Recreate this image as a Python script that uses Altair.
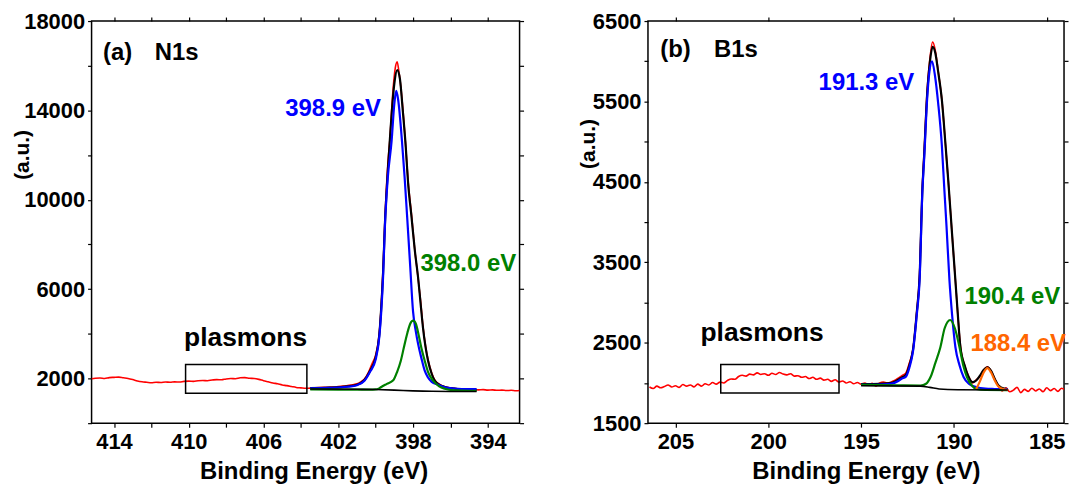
import altair as alt
import pandas as pd

FONT = "Liberation Sans"

# ---------------- (a) N1s : (binding energy eV, intensity) ----------------
n1s_raw = [(415.2,1990),(415.0,2010),(414.75,2020),(414.5,2000),(414.25,2040),(414.0,2050),(413.75,2060),
           (413.5,2030),(413.25,2000),(413.0,1950),(412.75,1890),(412.5,1850),(412.25,1830),(412.0,1810),
           (411.75,1830),(411.5,1820),(411.25,1840),(411.0,1830),(410.75,1850),(410.5,1840),(410.25,1870),
           (410.0,1880),(409.75,1870),(409.5,1900),(409.25,1910),(409.0,1900),(408.75,1930),(408.5,1950),
           (408.25,1940),(408.0,1980),(407.75,2000),(407.5,1990),(407.25,2030),(407.0,2040),(406.75,2010),
           (406.5,2000),(406.25,1960),(406.0,1900),(405.75,1850),(405.5,1800),(405.25,1760),(405.0,1710),
           (404.75,1680),(404.5,1640),(404.25,1600),(404.0,1580),(403.75,1560),(403.5,1570),(403.25,1580),
           (403.0,1590),(402.75,1600),(402.5,1610),(402.25,1620),(402.0,1640),(401.75,1660),(401.5,1680),
           (401.25,1720),(401.0,1760),(400.8,1850),(400.6,1980),(400.4,2250),(400.2,2650),(400.0,3050),
           (399.8,4100),(399.7,5300),(399.6,7000),(399.5,9200),(399.35,11600),(399.24,12700),(399.1,14600),
           (398.95,15900),(398.85,16170),(398.75,15700),(398.6,14600),(398.41,12600),(398.25,10700),
           (398.09,9400),(397.9,7700),(397.73,6500),(397.6,5500),(397.47,4350),(397.33,3450),(397.2,2850),
           (397.0,2250),(396.85,1950),(396.7,1800),(396.5,1700),(396.25,1620),(396.0,1580),(395.75,1550),
           (395.5,1530),(395.25,1520),(395.0,1510),(394.75,1500),(394.5,1490),(394.25,1500),(394.0,1480),
           (393.75,1490),(393.5,1470),(393.25,1480),(393.0,1460),(392.75,1470),(392.5,1450),(392.3,1460)]
n1s_env = [(403.5,1570),(402.5,1590),(401.5,1650),(401.0,1720),(400.6,1930),(400.3,2350),(400.0,2950),
           (399.8,4000),(399.7,5200),(399.6,6800),(399.5,9000),(399.35,11300),(399.2,13200),(399.0,15200),
           (398.85,15800),(398.7,15400),(398.55,14000),(398.41,12600),(398.25,10600),(398.09,9300),
           (397.9,7700),(397.73,6520),(397.6,5400),(397.47,4290),(397.33,3400),(397.2,2807),(397.0,2200),
           (396.85,1916),(396.6,1720),(396.3,1620),(395.8,1550),(395.5,1520),(394.6,1490)]
n1s_main = [(403.5,1560),(402.5,1580),(401.5,1630),(401.0,1700),(400.6,1900),(400.3,2300),(400.0,2850),
            (399.8,3900),(399.7,5000),(399.6,6600),(399.5,8900),(399.35,11000),(399.15,12600),(399.0,14300),
            (398.9,14870),(398.8,14500),(398.59,12600),(398.45,11000),(398.32,9300),(398.15,7000),
            (398.0,5000),(397.85,4100),(397.73,3550),(397.55,2900),(397.38,2360),(397.2,2050),(397.0,1850),
            (396.67,1720),(396.3,1600),(395.8,1550),(395.4,1530),(394.6,1520)]
n1s_second = [(403.5,1510),(402.0,1505),(401.0,1500),(400.3,1500),(400.0,1510),(399.85,1540),(399.7,1620),
              (399.4,1760),(399.06,1916),(398.85,2300),(398.65,2807),(398.5,3350),(398.3,4050),(398.15,4450),
              (398.0,4590),(397.85,4450),(397.7,3950),(397.55,3350),(397.38,2807),(397.2,2300),(396.94,1916),
              (396.6,1650),(396.3,1540),(395.8,1470),(395.0,1450),(394.6,1450)]
n1s_bg = [(403.5,1530),(401.0,1515),(400.0,1505),(399.0,1480),(398.0,1445),(397.0,1425),(396.0,1420),(394.6,1420)]

# ---------------- (b) B1s ----------------
b1s_raw = [(206.4,1950),(206.2,1930),(206.0,1960),(205.8,1940),(205.6,1955),(205.4,1975),(205.2,1950),
           (205.0,1965),(204.8,1945),(204.6,1980),(204.4,1960),(204.2,1975),(204.0,1950),(203.8,1985),
           (203.6,1960),(203.4,1990),(203.2,1975),(203.0,2005),(202.8,1985),(202.6,2010),(202.4,2000),
           (202.2,2030),(202.0,2050),(201.8,2045),(201.6,2080),(201.4,2095),(201.2,2085),(201.0,2110),
           (200.8,2100),(200.6,2125),(200.4,2105),(200.2,2115),(200.0,2095),(199.8,2120),(199.6,2105),
           (199.4,2130),(199.2,2110),(199.0,2100),(198.8,2115),(198.6,2085),(198.4,2090),(198.2,2070),
           (198.0,2080),(197.8,2055),(197.6,2070),(197.4,2045),(197.2,2060),(197.0,2035),(196.8,2045),
           (196.6,2020),(196.4,2040),(196.2,2010),(196.0,2025),(195.8,2000),(195.6,2015),(195.4,1990),
           (195.2,2005),(195.0,1985),(194.8,2000),(194.6,1975),(194.4,1995),(194.2,1960),(194.0,2000),
           (193.8,2010),(193.6,2000),(193.4,2010),(193.2,2030),(193.0,2060),(192.8,2090),(192.6,2120),
           (192.4,2250),(192.2,2430),(192.0,2900),(191.85,3350),(191.7,4450),(191.6,4900),(191.44,5650),
           (191.3,6020),(191.15,6240),(191.0,6130),(190.85,5880),(190.65,5520),(190.45,4950),(190.3,4500),
           (190.1,3850),(189.92,3270),(189.8,2880),(189.65,2460),(189.4,2200),(189.2,2080),(189.0,2000),
           (188.8,2040),(188.6,2080),(188.4,2160),(188.2,2200),(188.0,2150),(187.8,2050),(187.6,1960),
           (187.4,1900),(187.2,1940),(187.0,1890),(186.8,1910),(186.6,1945),(186.4,1880),(186.2,1920),
           (186.0,1895),(185.8,1935),(185.6,1900),(185.4,1925),(185.2,1890),(185.0,1940),(184.8,1905),
           (184.6,1930),(184.4,1895),(184.2,1935),(184.0,1910)]
b1s_env = [(195.0,1985),(194.0,1990),(193.3,2005),(193.0,2040),(192.8,2070),(192.6,2095),(192.4,2220),
           (192.2,2420),(192.0,2880),(191.85,3320),(191.7,4400),(191.6,4850),(191.44,5600),(191.3,5980),
           (191.15,6180),(191.0,6100),(190.85,5870),(190.65,5520),(190.45,4950),(190.3,4500),(190.1,3850),
           (189.92,3270),(189.8,2880),(189.65,2444),(189.4,2200),(189.21,2073),(189.0,2010),(188.8,2030),
           (188.6,2090),(188.4,2160),(188.2,2195),(188.0,2150),(187.8,2050),(187.6,1970),(187.3,1930),
           (187.1,1925)]
b1s_main = [(195.0,1975),(194.0,1980),(193.3,1995),(193.0,2025),(192.8,2055),(192.6,2075),(192.4,2190),
            (192.2,2400),(192.0,2850),(191.85,3270),(191.7,4380),(191.6,4800),(191.44,5540),(191.32,5870),
            (191.18,6000),(191.02,5820),(190.85,5480),(190.65,4950),(190.52,4420),(190.4,3950),(190.24,3270),
            (190.1,2850),(189.92,2444),(189.7,2220),(189.48,2073),(189.2,1990),(188.8,1950),(188.3,1930),
            (187.8,1925),(187.1,1920)]
b1s_second = [(195.0,1975),(193.0,1970),(191.8,1968),(191.5,1990),(191.26,2073),(191.0,2250),(190.73,2444),
              (190.5,2680),(190.2,2783),(189.95,2680),(189.7,2444),(189.5,2220),(189.3,2073),(189.0,1960),
              (188.8,1925),(188.3,1912),(187.1,1910)]
b1s_third = [(188.8,1925),(188.6,2020),(188.4,2130),(188.2,2185),(188.0,2130),(187.8,2030),(187.6,1955),
             (187.3,1920),(187.1,1915)]
b1s_bg = [(195.0,1965),(191.8,1960),(191.3,1945),(190.8,1925),(189.8,1915),(187.1,1912)]

# axis ticks
a_xticks = [414, 412, 410, 408, 406, 404, 402, 400, 398, 396, 394]
a_yticks = [0, 2000, 4000, 6000, 8000, 10000, 12000, 14000, 16000, 18000]
b_xticks = [205, 200, 195, 190, 185]
b_yticks = [1500, 2000, 2500, 3000, 3500, 4000, 4500, 5000, 5500, 6000, 6500]

# annotation texts and colours
a_texts = ["(a)", "N1s", "398.9 eV", "398.0 eV", "plasmons"]
b_texts = ["(b)", "B1s", "191.3 eV", "190.4 eV", "188.4 eV", "plasmons"]
a_colors = ["black", "black", "#0000ff", "#008000", "black"]
b_colors = ["black", "black", "#0000ff", "#008000", "#ff6600", "black"]
# annotation anchors in data coordinates (E, I), alignment and size
a_anchor = [(414.59, 16570, "left", 24), (411.82, 16570, "left", 24), (399.72, 14080, "right", 24),
            (397.6, 7130, "left", 24), (410.25, 3830, "left", 26.5)]
b_anchor = [(205.82, 6140, "left", 24), (202.92, 6140, "left", 24), (192.14, 5733, "right", 24),
            (189.43, 3064, "left", 24), (189.11, 2481, "left", 24), (203.65, 2626, "left", 26.5)]
a_box = [(410.17, 403.68, 1337, 2628)]
b_box = [(202.56, 196.19, 1875, 2230)]


def panel(raw, env, main, second, third, bg, texts, colors, anchors, box, xdom, ydom, xticks, yticks,
          xlabel_expr, ylabel_expr, width, height, ytitle_x, ytitle_y, xtitle_shift):
    xs = alt.Scale(domain=xdom, reverse=True, nice=False, zero=False)
    ys = alt.Scale(domain=ydom, nice=False, zero=False)
    common = dict(labelFont=FONT, labelFontWeight="bold", labelFontSize=22, labelColor="black",
                  titleFont=FONT, titleFontWeight="bold", titleColor="black",
                  tickColor="black", tickSize=4, tickWidth=1.2, domain=False, grid=False)
    bottom = alt.Axis(orient="bottom", values=xticks, labelExpr=xlabel_expr, title="Binding Energy (eV)",
                      titleFontSize=24, titlePadding=8, labelPadding=4, titleX=width / 2 + xtitle_shift, **common)
    left = alt.Axis(orient="left", values=yticks, labelExpr=ylabel_expr, format="d", title="(a.u.)",
                    titleFontSize=21, titleAngle=270, titleAlign="center", titleBaseline="middle",
                    titleX=ytitle_x, titleY=ytitle_y, labelPadding=3, **common)
    top = alt.Axis(orient="top", values=xticks, labels=False, title="", **common)
    right = alt.Axis(orient="right", values=yticks, labels=False, title="", **common)

    def line(pairs, color, w, first=False):
        d = pd.DataFrame(pairs, columns=["E", "I"])
        return alt.Chart(d).mark_line(color=color, strokeWidth=w, interpolate="monotone", clip=True).encode(
            x=alt.X("E:Q", scale=xs, axis=bottom if first else None),
            y=alt.Y("I:Q", scale=ys, axis=left if first else None))

    layers = [line(raw, "#ff0000", 1.6, first=True), line(env, "black", 2.2), line(main, "#0000ff", 2.2),
              line(second, "#008000", 2.2)]
    if third is not None:
        layers.append(line(third, "#ff6600", 2.2))
    layers.append(line(bg, "black", 1.6))

    bd = pd.DataFrame(box, columns=["x1", "x2", "y1", "y2"])
    layers.append(alt.Chart(bd).mark_rect(fill="transparent", stroke="black", strokeWidth=1.5).encode(
        x=alt.X("x1:Q", scale=xs, axis=top), x2="x2:Q",
        y=alt.Y("y1:Q", scale=ys, axis=right), y2="y2:Q"))

    for t, c, (e, i, al, fs) in zip(texts, colors, anchors):
        nd = pd.DataFrame({"t": [t], "E": [e], "I": [i]})
        layers.append(alt.Chart(nd).mark_text(font=FONT, fontWeight="bold", fontSize=fs, align=al,
                                              baseline="middle", color=c).encode(
            x=alt.X("E:Q", scale=xs, axis=None), y=alt.Y("I:Q", scale=ys, axis=None), text="t:N"))
    return alt.layer(*layers).resolve_axis(x="independent", y="independent").properties(width=width, height=height)


left_panel = panel(n1s_raw, n1s_env, n1s_main, n1s_second, None, n1s_bg, a_texts, a_colors, a_anchor, a_box,
                   [392.3, 415.2], [0, 18000], a_xticks, a_yticks,
                   "datum.value % 4 == 2 ? datum.label : ''", "datum.value % 4000 == 2000 ? datum.label : ''",
                   430, 404, -69, 134, 8)
right_panel = panel(b1s_raw, b1s_env, b1s_main, b1s_second, b1s_third, b1s_bg, b_texts, b_colors, b_anchor, b_box,
                    [184.07, 206.48], [1500, 6500], b_xticks, b_yticks,
                    "datum.label", "datum.value % 1000 == 500 ? datum.label : ''",
                    418, 404, -60, 123, 10)

chart = alt.hconcat(left_panel, right_panel, spacing=51).properties(
    padding={"left": 11, "top": 8, "right": 0, "bottom": 0}, background="white"
).configure_view(stroke="black", strokeWidth=1.5)

chart.save("out.html", embed_options={"renderer": "svg", "actions": False})
